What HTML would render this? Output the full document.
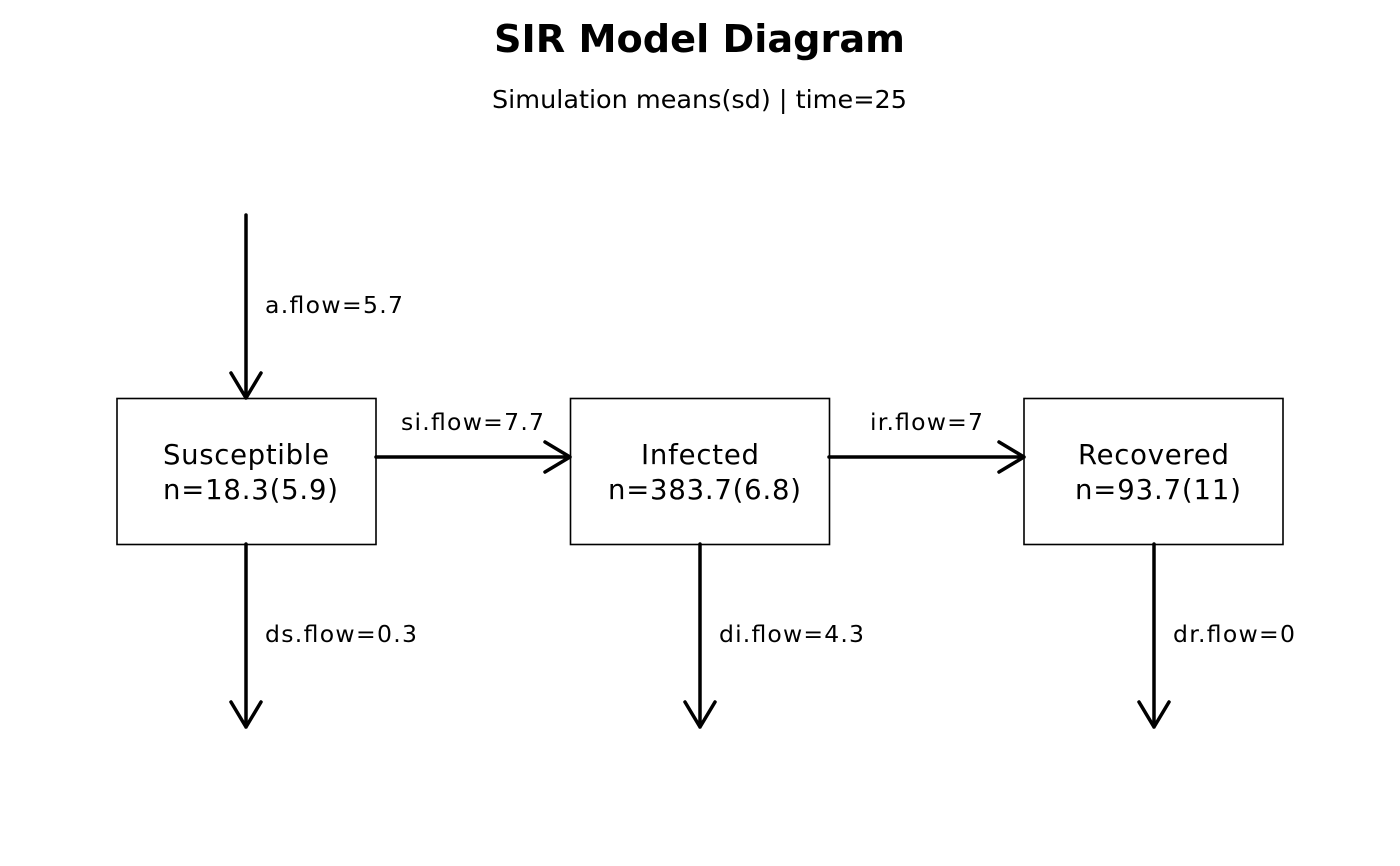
<!DOCTYPE html>
<html><head><meta charset="utf-8"><style>
html,body{margin:0;padding:0;background:#fff;}
svg{display:block;font-family:"DejaVu Sans","Liberation Sans",sans-serif;}
</style></head><body>
<svg width="1400" height="866" viewBox="0 0 1400 866" xmlns="http://www.w3.org/2000/svg">
<text x="494" y="52" font-size="38" font-weight="bold" textLength="411" lengthAdjust="spacingAndGlyphs">SIR Model Diagram</text>
<text x="492" y="108" font-size="24.5" textLength="415" lengthAdjust="spacingAndGlyphs">Simulation means(sd) | time=25</text>
<g fill="none" stroke="#000" stroke-width="1.6">
<rect x="117" y="398.5" width="259" height="146"/>
<rect x="570.5" y="398.5" width="259" height="146"/>
<rect x="1024" y="398.5" width="259" height="146"/>
</g>
<g font-size="27.5" lengthAdjust="spacingAndGlyphs">
<text x="163" y="464" textLength="166">Susceptible</text><text x="163" y="499" textLength="175">n=18.3(5.9)</text>
<text x="641" y="464" textLength="118">Infected</text><text x="608" y="499" textLength="193">n=383.7(6.8)</text>
<text x="1078" y="464" textLength="151">Recovered</text><text x="1075" y="499" textLength="166">n=93.7(11)</text>
</g>
<g fill="none" stroke="#000" stroke-width="3.5" stroke-linecap="round" stroke-linejoin="round">
<path d="M246 215V398M231 373L246 398L261 373"/>
<path d="M376 457H570M545 442L570 457L545 472"/>
<path d="M829 457H1024M999 442L1024 457L999 472"/>
<path d="M246 544V727M231 702L246 727L261 702"/>
<path d="M700 544V727M685 702L700 727L715 702"/>
<path d="M1154 544V727M1139 702L1154 727L1169 702"/>
</g>
<g font-size="23.5" lengthAdjust="spacingAndGlyphs">
<text x="265" y="313" textLength="138">a.flow=5.7</text>
<text x="401" y="430" textLength="143">si.flow=7.7</text>
<text x="870" y="430" textLength="113">ir.flow=7</text>
<text x="265" y="642" textLength="152">ds.flow=0.3</text>
<text x="719" y="642" textLength="145">di.flow=4.3</text>
<text x="1173" y="642" textLength="122">dr.flow=0</text>
</g>
</svg>
</body></html>
